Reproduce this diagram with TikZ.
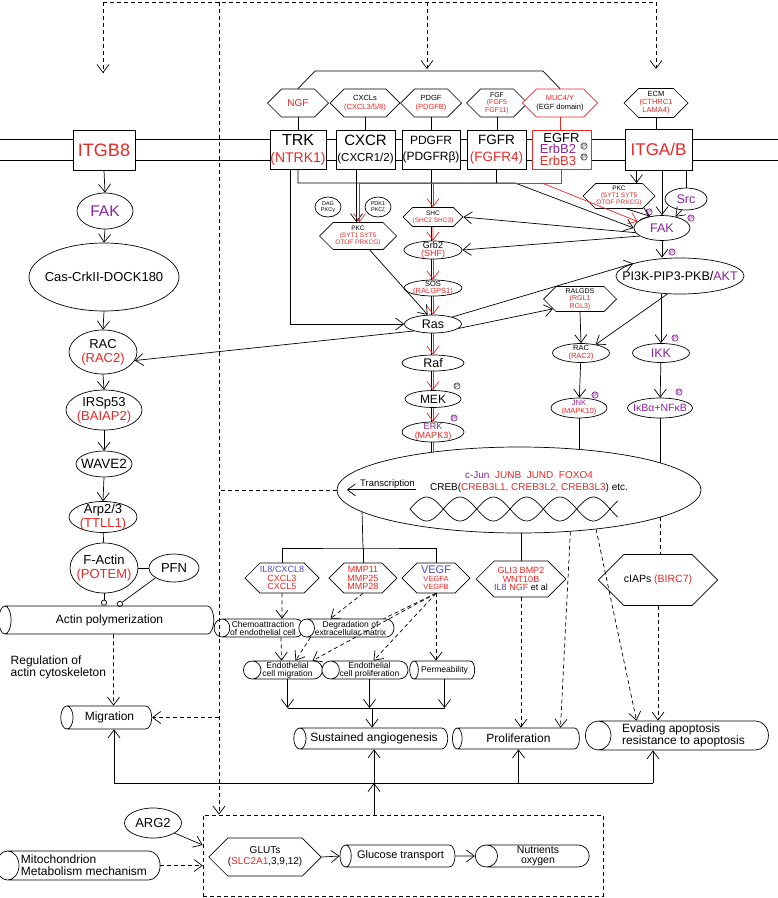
\documentclass[tikz,border=0pt]{standalone}
\usepackage{fontspec}
\setmainfont{Liberation Sans}
\usetikzlibrary{shapes.geometric,shapes.symbols,arrows.meta,backgrounds,calc}
\definecolor{rd}{RGB}{234,40,36}
\definecolor{pu}{RGB}{140,35,160}
\definecolor{bl}{RGB}{72,72,190}
\newcommand{\fsz}[2]{\fontsize{#1}{#2}\selectfont}
\tikzstyle{mbox}     = [rectangle, draw, fill=white, minimum width=58pt, minimum height=39pt, inner sep=0pt, align=center]
\tikzstyle{hexa}     = [signal, signal to=east and west, draw, fill=white, inner sep=0pt, align=center]
\tikzstyle{hexlig}   = [hexa, minimum width=61pt, minimum height=28pt, font=\fsz{7.5}{8.5}]
\tikzstyle{hexb}     = [hexa, minimum width=68pt, minimum height=30pt, font=\fsz{9}{8.5}]
\tikzstyle{oval}     = [ellipse, draw, fill=white, inner xsep=-80pt, inner ysep=-30pt, align=center]
% cylinder lying on its side: minimum height is its length, minimum width its thickness
\tikzstyle{cyl}      = [cylinder, shape border rotate=180, aspect=1.1, draw, fill=white, inner sep=0pt, align=center]
\tikzstyle{cyls}     = [cyl, minimum width=18pt, font=\fsz{8.5}{8}]
\tikzstyle{arrow}    = [-{Straight Barb[length=8pt,width=12pt]}]
\tikzstyle{dline}    = [dash pattern=on 4pt off 3pt]
\tikzstyle{darrow}   = [arrow, dline]
\tikzstyle{redarrow} = [arrow, draw=rd]
\tikzstyle{circ}     = [-{Circle[open,length=6pt]}]
\tikzstyle{pmk}      = [circle, draw=pu, text=pu, inner sep=0.2pt, font=\fsz{6}{6}]
\tikzstyle{pmkb}     = [pmk, draw=black!70, text=black!70]

\begin{document}
\begin{tikzpicture}[x=1pt, y=-1pt, line width=0.7pt]
\useasboundingbox (0,0) rectangle (778,898);

% cell membrane
\draw[line width=0.9pt] (0,139) -- (778,139);
\draw[line width=0.9pt] (0,160) -- (778,160);

% receptors
\node[mbox, minimum width=62pt, minimum height=40pt, font=\fsz{18}{20}, text=rd] (itgb8) at (104,150) {ITGB8};
\node[mbox, minimum width=56pt, font=\fsz{14}{17}] (trk) at (298,149.5) {{\fsz{16}{17}TRK}\\{\color{rd}(NTRK1)}};
\node[mbox, minimum width=59pt, font=\fsz{11.5}{16}] (cxcr) at (365.5,149.5) {{\fsz{15}{16}CXCR}\\(CXCR1/2)};
\node[mbox, font=\fsz{12}{16}] (pdgfr) at (431,149.5) {PDGFR\\(PDGFRβ)};
\node[mbox, minimum width=59pt, font=\fsz{13.5}{17}] (fgfr) at (496.5,149.5) {FGFR\\{\color{rd}(FGFR4)}};
\node[mbox, minimum width=59pt, draw=rd, font=\fsz{13}{11.5}] (egfr) at (561.5,149.5) {EGFR\\{\color{pu}ErbB2}\makebox[7pt]{}\\{\color{rd}ErbB3}\makebox[7pt]{}};
\node[mbox, minimum width=67pt, minimum height=41pt, font=\fsz{17}{19}, text=rd] (itgab) at (658.5,149.5) {ITGA/B};
\node[pmkb] (perb2) at (584,146) {P};
\node[pmkb] (perb3) at (584,157) {P};

% ligands
\node[hexlig, font=\fsz{10}{11}, text=rd] (ngf) at (298,103) {NGF};
\node[hexlig] (cxcl) at (365,103) {CXCLs\\{\color{rd}(CXCL3/5/8)}};
\node[hexlig] (pdgf) at (431,103) {PDGF\\{\color{rd}(PDGFB)}};
\node[hexlig, font=\fsz{7}{7.5}] (fgf) at (497,103) {FGF\\{\color{rd}(FGF5}\\{\color{rd}FGF11)}};
\node[hexlig, draw=rd] (muc) at (560,103) {{\color{rd}MUC4/Y}\\(EGF domain)};
\node[hexlig, minimum width=64pt, minimum height=29pt, font=\fsz{7.5}{8}] (ecm) at (656,103) {ECM\\{\color{rd}(CTHRC1}\\{\color{rd}LAMA4)}};

\foreach \a/\b in {ngf/trk, cxcl/cxcr, pdgf/pdgfr, fgf/fgfr, ecm/itgab}
    \draw (\a.south) -- (\a.south |- \b.north);
\draw[rd] (muc.south) -- (muc.south |- egfr.north);
\coordinate (lig1) at (315,71);
\coordinate (lig2) at (543,71);
\draw (ngf.north) -- (lig1) -- (lig2) -- (muc.north);

% dashed feedback on top
\coordinate (tl) at (103,2);
\coordinate (tm) at (427,2);
\coordinate (tv) at (219,2);
\coordinate (tr) at (656,2);
\draw[dline] (tl) -- (tr);
\draw[darrow] (tl) -- ++(0,71);
\draw[darrow] (tm) -- ++(0,67);
\draw[darrow] (tr) -- ++(0,67);

% left branch
\node[oval, minimum width=56pt, minimum height=36pt, font=\fsz{15.5}{16}, text=pu] (fakl) at (105,211) {FAK};
\node[oval, minimum width=150pt, minimum height=68pt, font=\fsz{13}{14}] (cas) at (104,277) {Cas-CrkII-DOCK180};
\node[oval, minimum width=68pt, minimum height=44pt, font=\fsz{13}{14}] (racl) at (103,352) {RAC\\{\color{rd}(RAC2)}};
\node[oval, minimum width=76pt, minimum height=40pt, font=\fsz{13}{14}] (irsp) at (104,410) {IRSp53\\{\color{rd}(BAIAP2)}};
\node[oval, minimum width=56pt, minimum height=26pt, font=\fsz{13.5}{14}] (wave) at (104,464) {WAVE2};
\node[oval, minimum width=68pt, minimum height=31pt, font=\fsz{13}{14}] (arp) at (103,517) {Arp2/3\\{\color{rd}(TTLL1)}};
\node[oval, minimum width=68pt, minimum height=50pt, font=\fsz{13}{14}] (fact) at (104,568) {F-Actin\\{\color{rd}(POTEM)}};
\node[oval, minimum width=50pt, minimum height=28pt, font=\fsz{13}{14}] (pfn) at (174,568) {PFN};
\node[cyl, minimum height=215pt, minimum width=28pt, font=\fsz{12}{13}] (actin) at (109.5,620) {Actin polymerization};
\node[align=left, anchor=west, font=\fsz{12}{12}] (regl) at (7,667) {Regulation of\\actin cytoskeleton};
\node[cyl, minimum height=91pt, minimum width=23pt, font=\fsz{12}{13}] (migr) at (109.5,717.5) {Migration};

\foreach \a/\b in {itgb8/fakl, fakl/cas, cas/racl, racl/irsp, irsp/wave, wave/arp}
    \draw[arrow] (\a.south) -- (\b.north);
\draw (arp) -- (fact);
\draw (fact) -- (pfn);
\draw[circ] (fact.south) -- (fact.south |- actin.north);
\draw[circ] (pfn.208) -- ([xshift=8pt]actin.north);
\draw[darrow] ([xshift=4pt]actin.south) -- ([xshift=4pt]migr.north);

% Ras / MAPK cascade
\node[oval, minimum width=26pt, minimum height=20pt, font=\fsz{5.5}{6}] (dag) at (328,207) {DAG\\PKCγ};
\node[oval, minimum width=26pt, minimum height=20pt, font=\fsz{5.5}{6}] (pdk) at (378,207) {PDK1\\PKCζ};
\node[hexa, minimum width=77pt, minimum height=27pt, font=\fsz{6.5}{7}] (pkcl) at (358,236) {PKC\\{\color{rd}(SYT1 SYT5}\\{\color{rd}OTOF PRKCG)}};
\node[hexa, minimum width=57pt, minimum height=19pt, font=\fsz{6.5}{7}] (shc) at (433,217) {SHC\\{\color{rd}(SHC2 SHC3)}};
\node[oval, minimum width=58pt, minimum height=18pt, font=\fsz{9}{8.5}] (grb) at (433,250) {Grb2\\{\color{rd}(SHF)}};
\node[oval, minimum width=58pt, minimum height=16pt, font=\fsz{7.5}{7.5}] (sos) at (433,288) {SOS\\{\color{rd}(RALGPS1)}};
\node[oval, minimum width=57pt, minimum height=18pt, font=\fsz{12.5}{13}] (ras) at (433,324) {Ras};
\node[oval, minimum width=62pt, minimum height=16pt, font=\fsz{12.5}{13}] (raf) at (433,363) {Raf};
\node[oval, minimum width=56pt, minimum height=17pt, font=\fsz{12}{13}] (mek) at (433,399) {MEK};
\node[oval, minimum width=62pt, minimum height=20pt, font=\fsz{9}{9}] (erk) at (433,432) {{\color{pu}ERK}\\{\color{rd}(MAPK3)}};
\node[pmkb] (pmek) at (457,386) {P};
\node[pmk] (perk) at (454,418) {P};

\begin{scope}[on background layer]
\draw (pdgfr.south) -- ++(0,296);
\end{scope}

\coordinate (jf) at (515,183);
\coordinate (je) at (542,183);
\draw (fgfr.south) -- (fgfr.south |- jf);
\draw[arrow] ([xshift=-8pt]trk.south) |- (ras.west);
\draw[arrow] ([xshift=-1.5pt]pkcl.north |- cxcr.south) -- ([xshift=-1.5pt]pkcl.north);
\draw[redarrow] (shc.north |- jf) -- (shc.north);
\foreach \a/\b in {shc/grb, grb/sos, sos/ras, ras/raf, raf/mek, mek/erk}
    \draw[redarrow] (\a) -- (\b);
\draw[redarrow] (erk.south) -- ++(0,23);
\draw[arrow] (pkcl.-50) -- (ras.120);

% integrin / FAK / PI3K branch
\node[oval, minimum width=56pt, minimum height=25pt, font=\fsz{12.5}{13}, text=pu] (fakr) at (662,228) {FAK};
\node[hexa, minimum width=72pt, minimum height=25pt, font=\fsz{6.5}{7}] (pkcr) at (619,196) {PKC\\{\color{rd}(SYT1 SYT5}\\{\color{rd}OTOF PRKCG)}};
\node[oval, minimum width=42pt, minimum height=22pt, font=\fsz{12.5}{13}, text=pu] (src) at (686,199) {Src};
\node[oval, minimum width=128pt, minimum height=36pt, font=\fsz{12.5}{13}] (pi3k) at (680,276) {PI3K-PIP3-PKB/{\color{pu}AKT}};
\node[hexa, minimum width=73pt, minimum height=25pt, font=\fsz{7}{7.5}] (ralg) at (580,299) {RALGDS\\{\color{rd}(RGL1}\\{\color{rd}RGL3)}};
\node[oval, minimum width=57pt, minimum height=19pt, font=\fsz{7.5}{8}] (racm) at (581,353) {RAC\\{\color{rd}(RAC2)}};
\node[oval, minimum width=57pt, minimum height=19pt, font=\fsz{12.5}{13}, text=pu] (ikk) at (661,353) {IKK};
\node[oval, minimum width=56pt, minimum height=20pt, font=\fsz{7.5}{8}] (jnk) at (579,408) {{\color{pu}JNK}\\{\color{rd}(MAPK10)}};
\node[oval, minimum width=65pt, minimum height=20pt, font=\fsz{10.5}{11}, text=pu] (ikba) at (660,408) {IκBα+NFκB};
\node[pmk] (pfak1) at (649,212) {P};
\node[pmk] (pfak2) at (691,218) {P};
\node[pmk] (ppi3k) at (672,252) {P};
\node[pmk] (pikk) at (675,338) {P};
\node[pmk] (pikba) at (679,392) {P};
\node[pmk] (pjnk) at (595,395) {P};

\draw[arrow] (trk.south) |- (jf) -- (fakr.west);
\draw[redarrow] (egfr.south) |- ([xshift=1.5pt]pkcl.north |- jf) -- ([xshift=1.5pt]pkcl.north);
\draw[redarrow] (je) -- (fakr.165);
\draw[arrow] (fakr.190) -- (shc.east);
\draw[arrow] (fakr.200) -- (grb.east);
\draw[arrow] ([xshift=-22pt]itgab.south) -- ([xshift=-22pt]itgab.south |- pkcr.north);
\draw[arrow] (itgab.south -| fakr.north) -- (fakr.north);
\draw (itgab.south -| src.north) -- (src.north);
\draw[arrow] (pkcr.-60) -- (fakr.135);
\draw[arrow] (src.250) -- (fakr.40);
\draw[arrow] (fakr.south) -- (fakr.south |- pi3k.north);
\draw[arrow] (ras.20) -- (pi3k.165);
\draw[arrow] (ras.-10) -- (ralg.200);
\draw[arrow] (ras.200) -- (racl.-15);
\draw[arrow] (ralg.south) -- (racm.north);
\draw[arrow] (pi3k.235) -- (racm.30);
\draw[arrow] (pi3k.south -| ikk.north) -- (ikk.north);
\draw[arrow] (ikk) -- (ikba);
\draw[arrow] (racm) -- (jnk);
\draw[arrow] (jnk.south) -- ++(0,42);
\draw[arrow] (ikba.south) -- ++(0,65);

% nucleus
\node[oval, minimum width=364pt, minimum height=86pt] (nuc) at (519,490) {};
\node[font=\fsz{10}{11.5}, align=center] (nuctxt) at (529,482) {{\color{pu}c-Jun}\ \ {\color{rd}JUNB\ \ JUND\ \ FOXO4}\\CREB({\color{rd}CREB3L1, CREB3L2, CREB3L3}) etc.};
\node[font=\fsz{9.5}{10}, inner sep=1pt] (trans) at (387.5,484) {Transcription};
\draw[arrow] (trans.south east) -- ([xshift=-12pt]trans.south west);
\draw[domain=410:618, samples=90, smooth] plot (\x, {509+12*sin(5.4*(\x-410))});
\draw[domain=410:618, samples=90, smooth] plot (\x, {509-12*sin(5.4*(\x-410))});
\draw[dline] (nuc.west) -- (nuc.west -| tv);

% transcribed genes
\node[hexb] (il8) at (282,578) {{\color{bl}IL8/CXCL8}\\{\color{rd}CXCL3}\\{\color{rd}CXCL5}};
\node[hexb] (mmp) at (363,578) {{\color{rd}MMP11}\\{\color{rd}MMP25}\\{\color{rd}MMP28}};
\node[hexb, font=\fsz{7.5}{8}] (vegf) at (436,578) {{\fsz{11}{11}\color{bl}VEGF}\\{\color{rd}VEGFA}\\{\color{rd}VEGFB}};
\node[hexb, minimum width=78pt, minimum height=36pt] (gli) at (521,579) {{\color{rd}GLI3 BMP2}\\{\color{rd}WNT10B}\\{\color{bl}IL8} {\color{rd}NGF} et al};
\node[hexa, minimum width=90pt, minimum height=51pt, font=\fsz{10.5}{11}] (ciap) at (658,580) {cIAPs {\color{rd}(BIRC7)}};

\coordinate (hbar) at (363,548);
\draw (nuc.188) -- (hbar);
\draw (il8.north) |- (hbar) -| (vegf.north);
\draw (hbar) -- (mmp.north);
\draw (gli.north |- nuc.south) -- (gli.north);
\draw[dline] (nuc.-11) -- (nuc.-11 |- ciap.north);

% processes
\node[cyls, minimum height=82pt] (chemo) at (263,628) {Chemoattraction\\of endothelial cell};
\node[cyls, minimum height=87pt] (degr) at (350.5,628) {Degradation of\\extracellular matrix};
\node[cyls, minimum height=79pt] (ecmig) at (287.5,670) {Endothelial\\cell migration};
\node[cyls, minimum height=79pt] (ecprol) at (369.5,670) {Endothelial\\cell proliferation};
\node[cyls, minimum height=65pt] (perm) at (444.5,670) {Permeability};
\node[cyl, minimum height=154pt, minimum width=21pt, font=\fsz{12}{13}] (sust) at (374,738.5) {Sustained angiogenesis};
\node[cyl, minimum height=127pt, minimum width=21pt, font=\fsz{12}{13}] (prolif) at (518.5,738.5) {Proliferation};
\node[cyl, minimum height=183pt, minimum width=29pt, font=\fsz{12}{12}, align=left] (evad) at (683.5,735.5) {Evading apoptosis\\resistance to apoptosis};

\draw[darrow] (il8.south) -- ([xshift=19pt]chemo.north);
\draw[darrow] (mmp.south) -- ([xshift=-20pt]degr.north);
\draw[dline] (vegf.south) -- ([xshift=33pt]degr.north);
\draw[darrow] (vegf.south) -- ([xshift=25pt]ecmig.north);
\draw[darrow] ([xshift=-40pt]degr.south) -- ([xshift=8pt]ecmig.north);
\draw[darrow] ([xshift=18pt]chemo.south) -- ([xshift=-6pt]ecmig.north);
\draw[darrow] (vegf.south) -- ([xshift=4pt]ecprol.north);
\draw[darrow] (vegf.south) -- (vegf.south |- perm.north);

\coordinate (sb) at (372,708);
\draw[arrow] (ecmig.south) -- (ecmig.south |- sb);
\draw[arrow] (ecprol.south) -- (ecprol.south |- sb);
\draw[arrow] (perm.south) -- (perm.south |- sb);
\draw (ecmig.south |- sb) -- (perm.south |- sb);
\draw[arrow] (sb) -- (sb |- sust.north);

\draw[darrow] (gli.south) -- (gli.south |- prolif.north);
\draw[darrow] (nuc.-39) -- ([xshift=42pt]prolif.north);
\draw[darrow] (nuc.-27) -- ([xshift=-47pt]evad.north);
\draw[darrow] (ciap.south) -- (ciap.south |- evad.north);

% bottom links
\coordinate (bl) at (114,783);
\coordinate (br) at (653,783);
\draw (bl) -- (br);
\draw[arrow] (bl) -- (bl |- migr.south);
\draw[arrow] (sust.south |- bl) -- (sust.south);
\draw[arrow] (prolif.south |- bl) -- (prolif.south);
\draw[arrow] (br) -- (br |- evad.south);

% glucose box
\node[rectangle, draw, dline, minimum width=400pt, minimum height=81pt] (gbox) at (403,855.5) {};
\node[hexa, minimum width=96pt, minimum height=38pt, font=\fsz{10}{11}] (gluts) at (265,857) {GLUTs\\({\color{rd}SLC2A1},3,9,12)};
\node[cyl, minimum height=115pt, minimum width=22pt, font=\fsz{11}{12}] (gluc) at (400.5,856) {Glucose transport};
\node[cyl, minimum height=114pt, minimum width=22pt, font=\fsz{10.5}{10.5}] (nutr) at (538,856) {Nutrients\\oxygen};
\node[oval, minimum width=57pt, minimum height=30pt, font=\fsz{13}{14}] (arg) at (153,823) {ARG2};
\node[cyl, minimum height=164pt, minimum width=29pt, font=\fsz{12}{12}, align=left] (mito) at (84,865.5) {Mitochondrion\\Metabolism mechanism};

\draw[arrow] (gluts.east) -- (gluc.west);
\draw[arrow] (gluc.east) -- (nutr.west);
\draw[arrow] (arg.-25) -- ([yshift=10.5pt]gbox.west);
\draw[darrow] (mito.east) -- (mito.east -| gbox.west);
\draw[arrow] (sust.south |- gbox.north) -- (sust.south |- bl);

% long dashed feedback
\draw[darrow] (tv) -- (tv |- gbox.north);
\draw[darrow] (tv |- migr.east) -- (migr.east);
\end{tikzpicture}
\end{document}
